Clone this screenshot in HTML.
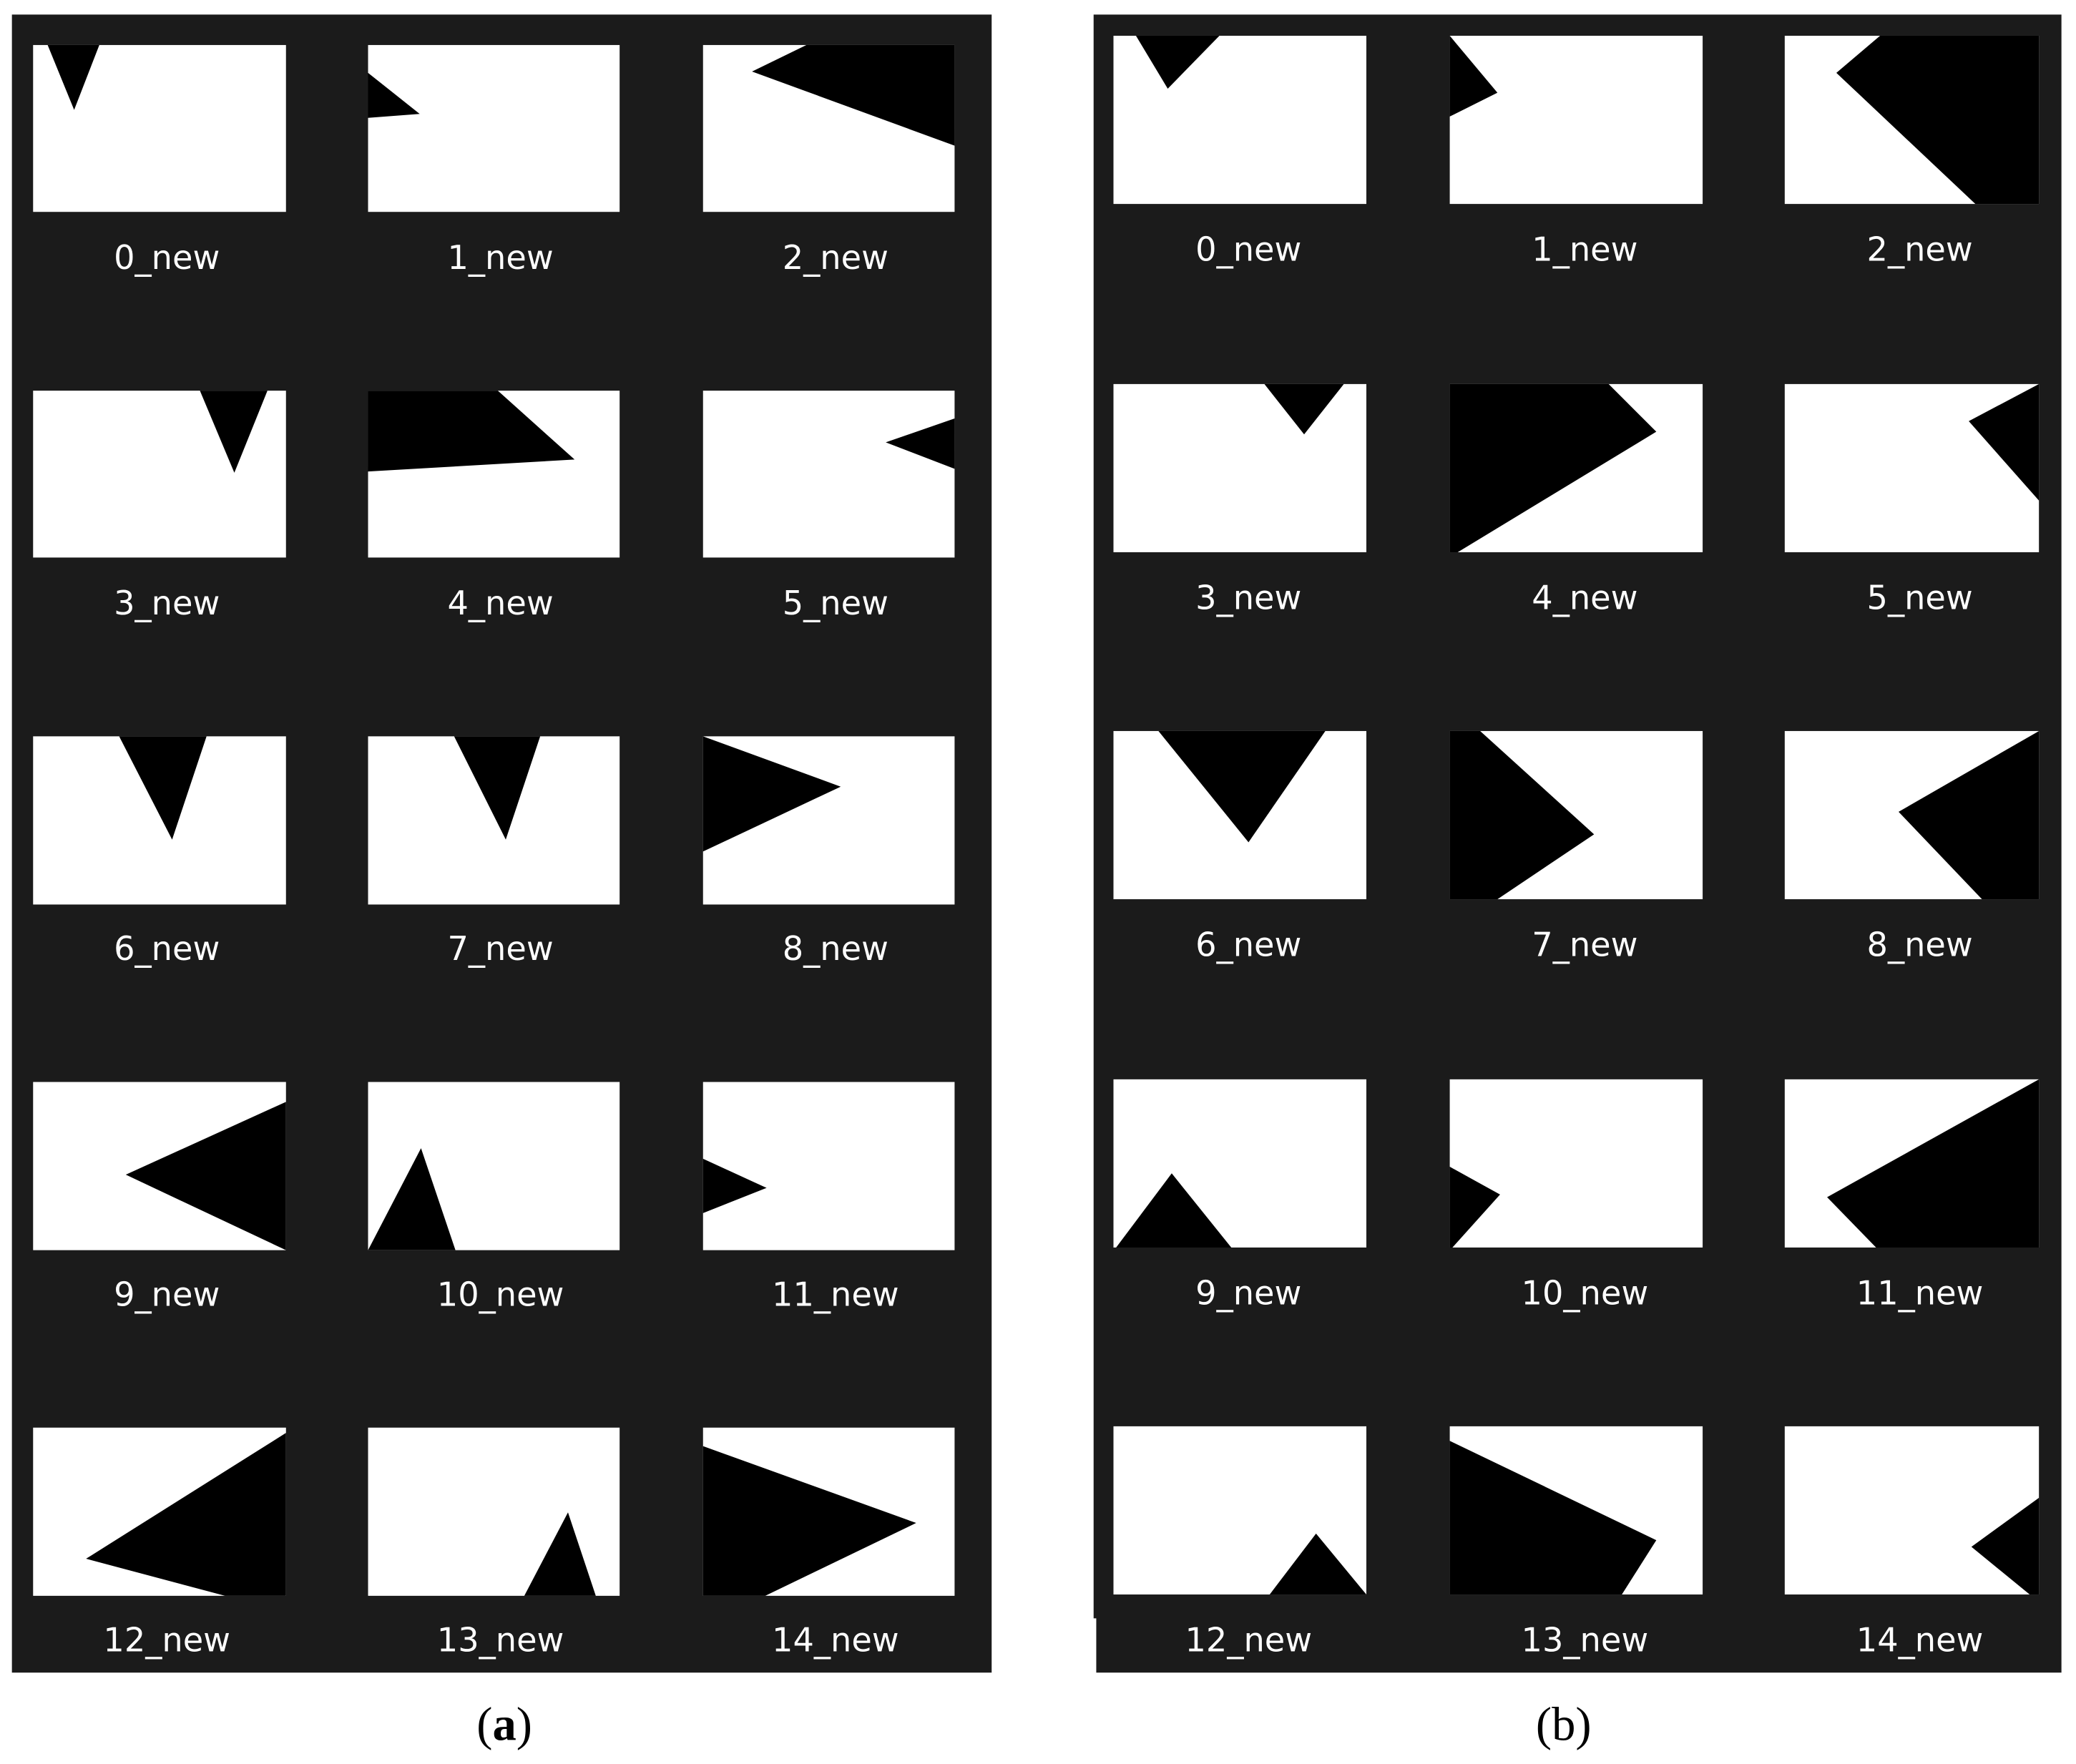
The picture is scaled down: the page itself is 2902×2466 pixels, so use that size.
<!DOCTYPE html>
<html><head><meta charset="utf-8"><style>
html,body{margin:0;padding:0;background:#fff;}
svg{display:block;}
.l{font-family:"DejaVu Sans","Liberation Sans",sans-serif;font-size:25px;fill:#fff;text-anchor:middle;}
.c{font-family:"Liberation Serif",serif;font-size:36px;fill:#000;text-anchor:middle;}
</style></head><body>
<svg width="2902" height="2466" viewBox="0 0 1568 1332" preserveAspectRatio="none" xmlns="http://www.w3.org/2000/svg">
<rect width="1568" height="1332" fill="#fff"/>
<rect x="9" y="11" width="740" height="1252" fill="#1b1b1b"/>
<path d="M826 11 H1557 V1263 H828 V1222 H826 Z" fill="#1b1b1b"/>
<g fill="#fff">
<rect x="25" y="34" width="191" height="126"/><rect x="278" y="34" width="190" height="126"/><rect x="531" y="34" width="190" height="126"/>
<rect x="25" y="295" width="191" height="126"/><rect x="278" y="295" width="190" height="126"/><rect x="531" y="295" width="190" height="126"/>
<rect x="25" y="556" width="191" height="127"/><rect x="278" y="556" width="190" height="127"/><rect x="531" y="556" width="190" height="127"/>
<rect x="25" y="817" width="191" height="127"/><rect x="278" y="817" width="190" height="127"/><rect x="531" y="817" width="190" height="127"/>
<rect x="25" y="1078" width="191" height="127"/><rect x="278" y="1078" width="190" height="127"/><rect x="531" y="1078" width="190" height="127"/>
<rect x="841" y="27" width="191" height="127"/><rect x="1095" y="27" width="191" height="127"/><rect x="1348" y="27" width="192" height="127"/>
<rect x="841" y="290" width="191" height="127"/><rect x="1095" y="290" width="191" height="127"/><rect x="1348" y="290" width="192" height="127"/>
<rect x="841" y="552" width="191" height="127"/><rect x="1095" y="552" width="191" height="127"/><rect x="1348" y="552" width="192" height="127"/>
<rect x="841" y="815" width="191" height="127"/><rect x="1095" y="815" width="191" height="127"/><rect x="1348" y="815" width="192" height="127"/>
<rect x="841" y="1077" width="191" height="127"/><rect x="1095" y="1077" width="191" height="127"/><rect x="1348" y="1077" width="192" height="127"/>
</g>
<g fill="#000">
<polygon points="36,34 56,83 75,34"/>
<polygon points="278,55 317,86 278,89"/>
<polygon points="609,34 568,54 721,110 721,34"/>
<polygon points="151,295 177,357 202,295"/>
<polygon points="278,295 376,295 434,347 278,356"/>
<polygon points="721,316 669,334 721,354"/>
<polygon points="90,556 130,634 156,556"/>
<polygon points="343,556 382,634 408,556"/>
<polygon points="531,556 635,594 531,643"/>
<polygon points="216,832 95,887 216,944"/>
<polygon points="278,944 318,867 344,944"/>
<polygon points="531,875 579,897 531,916"/>
<polygon points="216,1082 65,1177 170,1205 216,1205"/>
<polygon points="396,1205 429,1142 450,1205"/>
<polygon points="531,1092 692,1150 578,1205 531,1205"/>
<polygon points="858,27 882,67 921,27"/>
<polygon points="1095,27 1131,70 1095,88"/>
<polygon points="1420,27 1387,55 1492,154 1540,154 1540,27"/>
<polygon points="955,290 985,328 1015,290"/>
<polygon points="1095,290 1215,290 1251,326 1101,417 1095,417"/>
<polygon points="1540,290 1487,318 1540,378"/>
<polygon points="875,552 943,636 1001,552"/>
<polygon points="1095,552 1118,552 1204,630 1131,679 1095,679"/>
<polygon points="1540,552 1434,613 1497,679 1540,679"/>
<polygon points="843,942 885,886 930,942"/>
<polygon points="1095,881 1133,902 1097,942 1095,942"/>
<polygon points="1540,815 1380,904 1417,942 1540,942"/>
<polygon points="959,1204 994,1158 1032,1204"/>
<polygon points="1095,1088 1251,1163 1225,1204 1095,1204"/>
<polygon points="1540,1131 1489,1168 1533,1204 1540,1204"/>
</g>
<g class="l">
<text x="126" y="203">0_new</text><text x="378" y="203">1_new</text><text x="631" y="203">2_new</text>
<text x="126" y="464">3_new</text><text x="378" y="464">4_new</text><text x="631" y="464">5_new</text>
<text x="126" y="725">6_new</text><text x="378" y="725">7_new</text><text x="631" y="725">8_new</text>
<text x="126" y="986">9_new</text><text x="378" y="986">10_new</text><text x="631" y="986">11_new</text>
<text x="126" y="1247">12_new</text><text x="378" y="1247">13_new</text><text x="631" y="1247">14_new</text>
<text x="943" y="197">0_new</text><text x="1197" y="197">1_new</text><text x="1450" y="197">2_new</text>
<text x="943" y="460">3_new</text><text x="1197" y="460">4_new</text><text x="1450" y="460">5_new</text>
<text x="943" y="722">6_new</text><text x="1197" y="722">7_new</text><text x="1450" y="722">8_new</text>
<text x="943" y="985">9_new</text><text x="1197" y="985">10_new</text><text x="1450" y="985">11_new</text>
<text x="943" y="1247">12_new</text><text x="1197" y="1247">13_new</text><text x="1450" y="1247">14_new</text>
</g>
<text class="c" x="381" y="1314">(<tspan font-weight="bold">a</tspan>)</text>
<text class="c" x="1181" y="1314">(b)</text>
</svg>
</body></html>
